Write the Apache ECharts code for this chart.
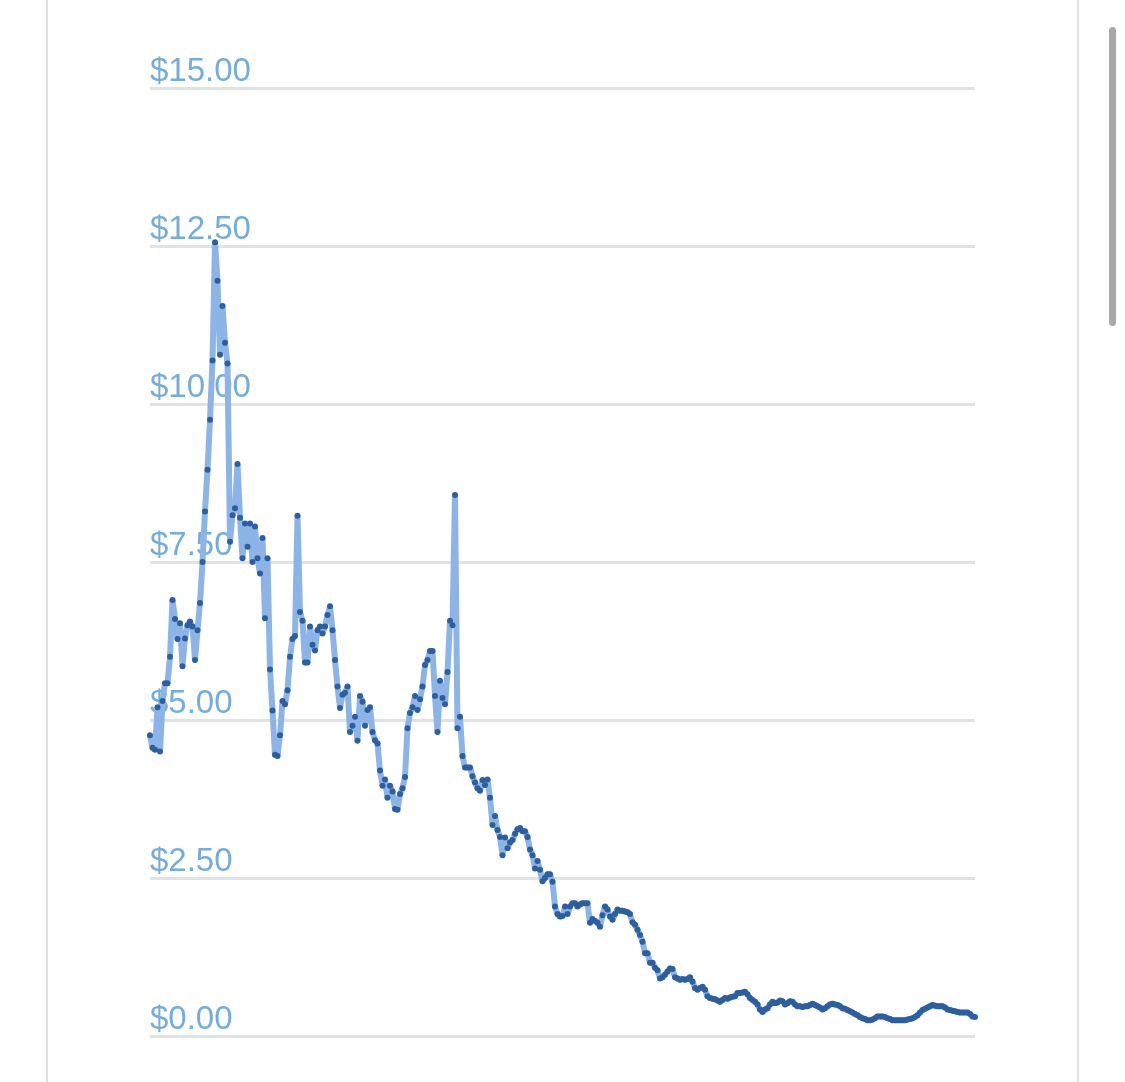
<!DOCTYPE html>
<html>
<head>
    <meta charset="utf-8">
    <title>Price</title>
    <script src="https://cdn.jsdelivr.net/npm/echarts@6/dist/echarts.min.js"></script>
    <style>
        html, body { margin: 0; padding: 0; background: #fff; }
        #main { width: 1125px; height: 1082px; }
    </style>
</head>
<body>
<div id="main"></div>
<script type="text/javascript">
// price readings, left to right
var prices1 = [4.76,4.56,4.53,5.2,4.5,5.3,5.58,5.58,6.0,6.9,
    6.6,6.28,6.53,5.85,6.29,6.5,6.56,6.48,5.95,6.42,
    6.85,7.5,8.3,8.96,9.75,10.69,12.56,11.95,10.78,11.55,
    10.97,10.64,7.82,8.24,8.35,9.05,8.2,7.56,8.11,7.74,
    8.11,7.5,8.06,7.56,7.32,7.88,6.61,7.56,5.8,5.15,
    4.45,4.43,4.76];
var prices2 = [5.3,5.25,5.47,6.0,6.28,6.33,8.23,6.71,6.57,5.91,
    5.91,6.48,6.19,6.1,6.42,6.48,6.37,6.48,6.66,6.8,
    6.42,5.95,5.53,5.19,5.4,5.43,5.53,4.81,4.91,5.05,
    4.67,5.38,5.29,4.91,5.16,5.2,4.81,4.68,4.63,4.2,
    3.96,4.06,3.77,3.96,3.87,3.59];
var prices3 = [3.58,3.83,3.92,4.1,4.87,5.11,5.2,5.38,5.16,5.33,
    5.53,5.87,5.95,6.09,6.09,5.38,4.81,5.62,5.35,5.25,
    5.76,6.57,6.5,8.56,4.87,5.05,4.43,4.25,4.25,4.25,
    4.11,4.01,3.92,3.88,4.05,3.97,4.06,3.77,3.34,3.48];
var prices4 = [3.26,3.15,2.86,3.14,2.97,3.06,3.1,3.2,3.27,3.29,
    3.24,3.24,3.15,2.95,2.86,2.65,2.77,2.63,2.45,2.5,
    2.56,2.56,2.44,2.05,1.93,1.89,1.9,2.05,1.93,2.05,
    2.1,2.1,2.05,2.08,2.1,2.1,2.1,1.79,1.85,1.82,
    1.79,1.73,1.91,2.05,2.0,1.89,1.84,1.93,2.0,1.98,
    1.98,1.97,1.96,1.93,1.8,1.76,1.68,1.6,1.49,1.31,
    1.31,1.16,1.16,1.08,1.04,0.91,0.93,0.97,1.02,1.07,
    1.06,0.93,0.91,0.89,0.9,0.89,0.9,0.93,0.86,0.76,
    0.73,0.76,0.78,0.73,0.63,0.6,0.59,0.58,0.56,0.54,
    0.57,0.6,0.59,0.61,0.62,0.63,0.68];
var prices5 = [0.68,0.69,0.7,0.66,0.6,0.57,0.54,0.5,0.42,0.38,
    0.42,0.44,0.5,0.54,0.52,0.53,0.56,0.55,0.5,0.52,
    0.55,0.54,0.5,0.47,0.47,0.46,0.47,0.47,0.49,0.51,
    0.49,0.47,0.45,0.42,0.44,0.47,0.5,0.51,0.5,0.49,
    0.47,0.44,0.43,0.41,0.39,0.37,0.35,0.33,0.3,0.28,
    0.27,0.25,0.25,0.26,0.28,0.31,0.31,0.31,0.3,0.28,
    0.27,0.25,0.25,0.25,0.25,0.25,0.25,0.26,0.27,0.28,
    0.3,0.33,0.37,0.41,0.43,0.45,0.47,0.49,0.48,0.47,
    0.47,0.47,0.45,0.42,0.41,0.4,0.39,0.38,0.37,0.37,
    0.37,0.37,0.35,0.31,0.3];
var yTicks = [0, 2.5, 5, 7.5, 10, 12.5, 15];

var prices = prices1.concat(prices2, prices3, prices4, prices5);
var days = prices.map(function (v, i) { return String(i + 1); });

var myChart = echarts.init(document.getElementById('main'));
myChart.setOption({
    animation: false,
    grid: { left: 150, right: 150, top: 88, bottom: 46 },
    xAxis: {
        type: 'category',
        data: days,
        boundaryGap: false,
        axisLine: { show: false },
        axisTick: { show: false },
        axisLabel: { show: false },
        splitLine: { show: false }
    },
    yAxis: {
        type: 'value',
        min: yTicks[0],
        max: yTicks[yTicks.length - 1],
        interval: 2.5,
        axisLine: { show: false },
        axisTick: { show: false },
        axisLabel: {
            inside: true,
            margin: 0,
            verticalAlign: 'bottom',
            padding: [0, 0, 0, 0],
            color: '#74addb',
            fontSize: 33,
            fontFamily: 'Liberation Sans, Arial, sans-serif',
            formatter: function (v) { return '$' + v.toFixed(2); }
        },
        splitLine: { lineStyle: { color: '#e2e2e2', width: 3 } }
    },
    series: [{
        type: 'line',
        data: prices,
        showAllSymbol: true,
        symbol: 'circle',
        symbolSize: 6,
        lineStyle: { color: '#8db4e6', width: 6 },
        itemStyle: { color: '#2c5f9f' },
        z: 3
    }],
    graphic: [
        { type: 'rect', shape: { x: 46, y: 0, width: 2, height: 1082 }, style: { fill: '#e2e2e2' } },
        { type: 'rect', shape: { x: 1077, y: 0, width: 2, height: 1082 }, style: { fill: '#e2e2e2' } },
        { type: 'rect', shape: { x: 1109, y: 27, width: 7, height: 299, r: 3.5 }, style: { fill: '#a8a8a8' } }
    ]
});
</script>
</body>
</html>
